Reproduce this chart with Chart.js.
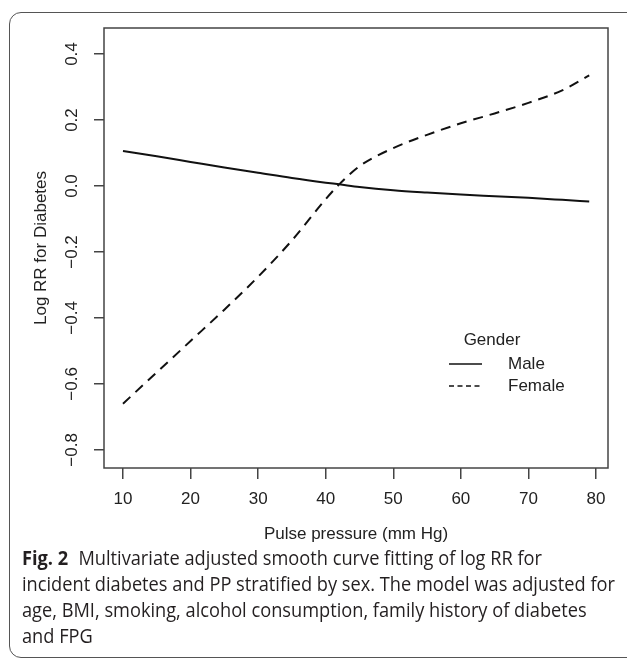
<!DOCTYPE html>
<html>
<head>
<meta charset="utf-8">
<script src="https://cdn.jsdelivr.net/npm/chart.js@4"></script>
<style>
  html, body { margin: 0; padding: 0; background: #fff; }
  body { width: 627px; height: 659px; position: relative; overflow: hidden; }
  #card {
    position: absolute; left: 9px; top: 12px; width: 640px; height: 644px;
    border: 1.5px solid #555; border-radius: 12px;
  }
  #wrap { position: absolute; left: 0; top: 0; width: 627px; height: 560px; }
  #caption {
    position: absolute; left: 22px; top: 545px;
    font-family: "Open Sans", sans-serif; font-size: 20px; line-height: 26px; color: #231f20;
  }
  #caption div { white-space: nowrap; transform-origin: left top; }
  #caption b { font-weight: 700; margin-right: 6px; }
</style>
</head>
<body>
<div id="card"></div>
<div id="wrap"><canvas id="chart" width="627" height="560"></canvas></div>
<div id="caption">
  <div><b>Fig. 2</b> Multivariate adjusted smooth curve fitting of log RR for</div>
  <div>incident diabetes and PP stratified by sex. The model was adjusted for</div>
  <div>age, BMI, smoking, alcohol consumption, family history of diabetes</div>
  <div>and FPG</div>
</div>
<script>
// pulse pressure values where the curves were read
const pp = [10, 15, 20, 25, 30, 35, 40, 42, 45, 50, 55, 60, 65, 70, 75, 79];
const maleRR = [0.106, 0.090, 0.073, 0.056, 0.040, 0.024, 0.010, 0.005, -0.003, -0.013, -0.020, -0.026, -0.031, -0.036, -0.042, -0.047];
const femaleRR = [-0.66, -0.565, -0.47, -0.375, -0.275, -0.165, -0.04, 0.005, 0.06, 0.115, 0.155, 0.19, 0.22, 0.252, 0.29, 0.335];

const xTicks = [10, 20, 30, 40, 50, 60, 70, 80];
const yTicks = [-0.8, -0.6, -0.4, -0.2, 0.0, 0.2, 0.4];
const legendTitle = 'Gender';

const axisFont = { family: '"Liberation Sans", Arial, sans-serif', size: 17 };
const ink = '#222';

function fmtY(v) {
  return (v < 0 ? '\u2212' : '') + Math.abs(v).toFixed(1);
}

// R-style box, rotated y labels and legend
const rStyle = {
  id: 'rStyle',
  afterDraw(chart) {
    const ctx = chart.ctx;
    const a = chart.chartArea;
    const ys = chart.scales.y;
    ctx.save();
    ctx.strokeStyle = '#444';
    ctx.lineWidth = 1.5;
    ctx.strokeRect(a.left, a.top, a.right - a.left, a.bottom - a.top);

    ctx.fillStyle = ink;
    ctx.font = axisFont.size + 'px ' + axisFont.family;
    ctx.textAlign = 'center';
    ctx.textBaseline = 'middle';
    yTicks.forEach(v => {
      ctx.save();
      ctx.translate(72, ys.getPixelForValue(v));
      ctx.rotate(-Math.PI / 2);
      ctx.fillText(fmtY(v), 0, 0);
      ctx.restore();
    });

    // legend, short dashes like R draws it
    ctx.fillText(legendTitle, 492, 340);
    chart.data.datasets.forEach((ds, i) => {
      const y = 364 + i * 22;
      ctx.beginPath();
      ctx.setLineDash(ds.borderDash ? [5, 3.5] : []);
      ctx.lineWidth = 1.4;
      ctx.strokeStyle = ds.borderColor;
      ctx.moveTo(449, y);
      ctx.lineTo(482, y);
      ctx.stroke();
      ctx.setLineDash([]);
      ctx.textAlign = 'left';
      ctx.fillText(ds.label, 508, y);
    });
    ctx.restore();
  }
};

new Chart(document.getElementById('chart'), {
  type: 'line',
  data: {
    datasets: [
      {
        label: 'Male',
        data: pp.map((x, i) => ({ x: x, y: maleRR[i] })),
        borderColor: '#111',
        borderWidth: 2,
        pointRadius: 0,
        cubicInterpolationMode: 'monotone'
      },
      {
        label: 'Female',
        data: pp.map((x, i) => ({ x: x, y: femaleRR[i] })),
        borderColor: '#111',
        borderWidth: 2,
        borderDash: [10, 7],
        pointRadius: 0,
        cubicInterpolationMode: 'monotone'
      }
    ]
  },
  options: {
    responsive: false,
    animation: false,
    layout: { padding: { top: 28, right: 19, left: 0, bottom: 0 } },
    plugins: { legend: { display: false }, tooltip: { enabled: false } },
    scales: {
      x: {
        type: 'linear',
        min: 7.19,
        max: 81.78,
        afterBuildTicks: s => { s.ticks = xTicks.map(v => ({ value: v })); },
        afterFit: s => { s.height = 92; },
        grid: { drawOnChartArea: false, tickLength: 11, color: '#444', lineWidth: 1.5 },
        border: { display: false },
        ticks: { font: axisFont, color: ink, padding: 10, maxRotation: 0, autoSkip: false },
        title: { display: true, text: 'Pulse pressure (mm Hg)', font: axisFont, color: ink, padding: { bottom: 15 } }
      },
      y: {
        type: 'linear',
        min: -0.855,
        max: 0.479,
        afterBuildTicks: s => { s.ticks = yTicks.map(v => ({ value: v })); },
        afterFit: s => { s.width = 104; },
        grid: { drawOnChartArea: false, tickLength: 10, color: '#444', lineWidth: 1.5 },
        border: { display: false },
        ticks: { display: false },
        title: { display: true, text: 'Log RR for Diabetes', font: axisFont, color: ink, padding: { top: 31 } }
      }
    }
  },
  plugins: [rStyle]
});

// squeeze caption lines so the longest one ends where the reference does
const lines = document.querySelectorAll('#caption div');
let widest = 0;
lines.forEach(l => { widest = Math.max(widest, l.scrollWidth); });
const k = 593 / widest;
lines.forEach(l => { l.style.transform = 'scaleX(' + k + ')'; });
</script>
</body>
</html>
